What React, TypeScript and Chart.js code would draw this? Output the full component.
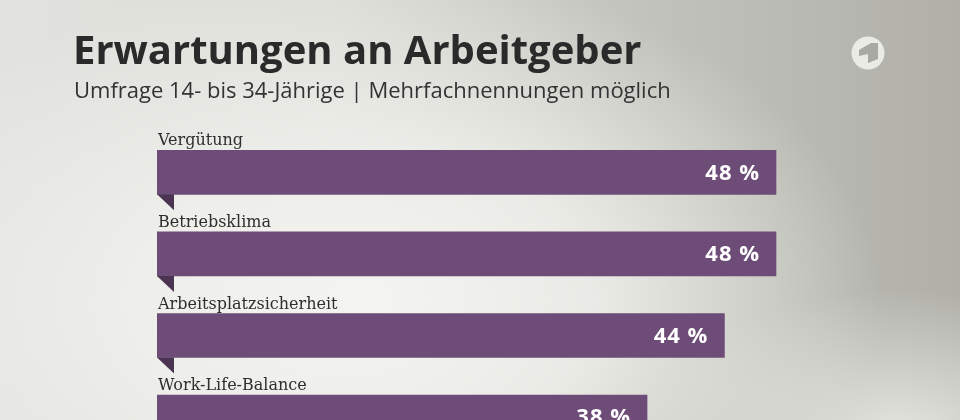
import React, { useEffect, useRef } from "react";
import { Chart, registerables } from "chart.js";

Chart.register(...registerables);

const categories = ["Vergütung", "Betriebsklima", "Arbeitsplatzsicherheit", "Work-Life-Balance"];
const values = [48, 48, 44, 38];
const valueLabels = ["48 %", "48 %", "44 %", "38 %"];

const TITLE = "Erwartungen an Arbeitgeber";
const SUBTITLE = "Umfrage 14- bis 34-Jährige | Mehrfachnennungen möglich";

const BAR_COLOR = "#6d4c77";
const FOLD_COLOR = "#4a3452";

const decorPlugin = {
  id: "decor",
  afterDatasetsDraw(chart: any) {
    const ctx = chart.ctx;
    const meta = chart.getDatasetMeta(0);
    meta.data.forEach((bar: any, i: number) => {
      const props = bar.getProps(["x", "y", "base", "height"], true);
      const top = props.y - props.height / 2;
      const bottom = props.y + props.height / 2;
      const left = props.base;
      // fold triangle
      ctx.save();
      ctx.fillStyle = FOLD_COLOR;
      ctx.beginPath();
      ctx.moveTo(left, bottom);
      ctx.lineTo(left + 17, bottom);
      ctx.lineTo(left + 17, bottom + 16);
      ctx.closePath();
      ctx.fill();
      // category label
      ctx.fillStyle = "#2e2e2e";
      ctx.font = '16px "DejaVu Serif"';
      ctx.textAlign = "left";
      ctx.textBaseline = "alphabetic";
      ctx.fillText(categories[i], left + 1, top - 5);
      // value label
      ctx.fillStyle = "#ffffff";
      ctx.font = 'bold 22px "Open Sans"';
      try { (ctx as any).letterSpacing = "1px"; } catch (e) {}
      ctx.textAlign = "right";
      ctx.textBaseline = "middle";
      ctx.fillText(valueLabels[i], props.x - 16, props.y + 1);
      try { (ctx as any).letterSpacing = "0px"; } catch (e) {}
      ctx.restore();
    });
  },
};

function ChartCanvas() {
  const ref = useRef<HTMLCanvasElement | null>(null);
  useEffect(() => {
    if (!ref.current) return;
    const chart = new Chart(ref.current, {
      type: "bar",
      data: {
        labels: categories,
        datasets: [
          {
            data: values,
            backgroundColor: BAR_COLOR,
            borderWidth: 0,
            barThickness: 44,
          },
        ],
      },
      options: {
        indexAxis: "y",
        animation: false,
        responsive: false,
        maintainAspectRatio: false,
        layout: { padding: { left: 157, right: 29.25, top: 131.5, bottom: 22.1 } },
        scales: {
          x: { display: false, min: 0, max: 60 },
          y: { display: false },
        },
        plugins: {
          legend: { display: false },
          tooltip: { enabled: false },
        },
      },
      plugins: [decorPlugin],
    });
    return () => chart.destroy();
  }, []);
  return (
    <canvas
      ref={ref}
      width={960}
      height={480}
      style={{ position: "absolute", left: 0, top: 0, width: 960, height: 480 }}
    />
  );
}

export default function App() {
  return (
    <div
      style={{
        position: "fixed",
        left: 0,
        top: 0,
        width: 960,
        height: 420,
        overflow: "hidden",
        background:
          "radial-gradient(ellipse 520px 330px at 360px 300px, rgba(244,244,240,1) 0%, rgba(240,240,236,0.85) 45%, rgba(240,240,236,0) 100%)," +
          "radial-gradient(ellipse 260px 140px at 900px 430px, rgba(232,232,227,0.9) 0%, rgba(232,232,227,0) 100%)," +
          "linear-gradient(to right, #e2e2de 0%, #dcdcd7 35%, #c4c4be 65%, #b0b0a9 100%)",
      }}
    >
      <ChartCanvas />
      <div
        style={{
          position: "absolute",
          left: 73,
          top: 22,
          fontFamily: "'Open Sans', sans-serif",
          fontWeight: 700,
          fontSize: 40,
          lineHeight: "54px",
          color: "#2a2a2a",
          whiteSpace: "nowrap",
        }}
      >
        {TITLE}
      </div>
      <div
        style={{
          position: "absolute",
          left: 74,
          top: 74,
          fontFamily: "'Open Sans', sans-serif",
          fontWeight: 400,
          fontSize: 22,
          lineHeight: "30px",
          color: "#333333",
          whiteSpace: "nowrap",
        }}
      >
        {SUBTITLE}
      </div>
      <svg
        width={40}
        height={40}
        viewBox="-20 -20 40 40"
        style={{ position: "absolute", left: 848, top: 33 }}
      >
        <circle cx={0} cy={0} r={16.5} fill="#ebebe5" />
        <path d="M -9 -3 L 3 -10 L 10 -10 L 10 6 L 0 10 L 0 1 L -9 3 Z" fill="#a9a9a3" />
      </svg>
    </div>
  );
}
